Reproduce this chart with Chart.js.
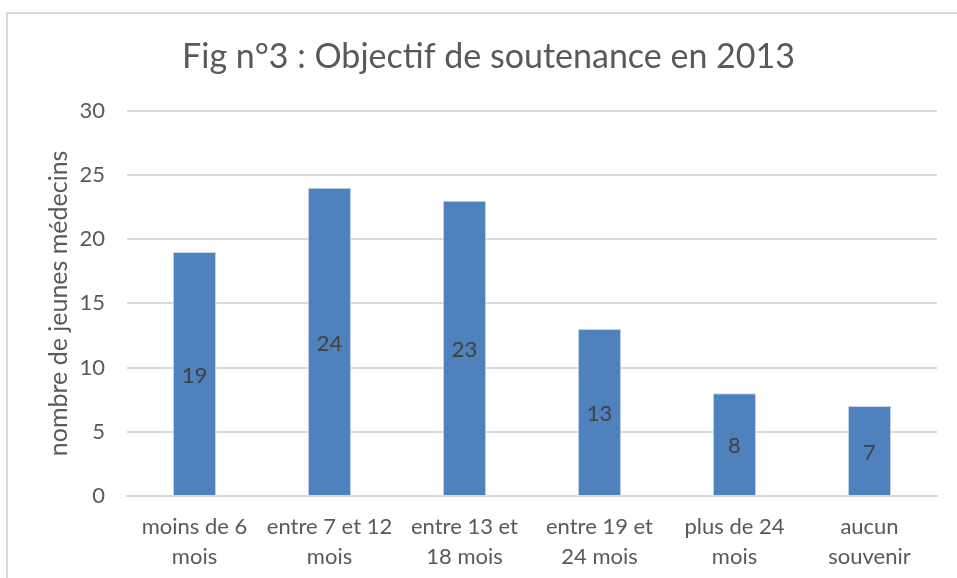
<!DOCTYPE html>
<html><head><meta charset="utf-8">
<script src="https://cdn.jsdelivr.net/npm/chart.js@4"></script>
<style>
html,body{margin:0;padding:0;background:#fff;}
#wrap{position:absolute;left:0;top:0;width:957px;height:578px;}
#frame{position:absolute;left:6px;top:12px;width:951px;height:566px;border-left:2px solid #d9d9d9;border-top:2px solid #d9d9d9;box-sizing:border-box;}
canvas{position:absolute;left:0;top:0;}
</style></head><body>
<div id="wrap"><div id="frame"></div><canvas id="c" width="957" height="578"></canvas></div>
<script>
const categories = [['moins de 6','mois'],['entre 7 et 12','mois'],['entre 13 et','18 mois'],['entre 19 et','24 mois'],['plus de 24','mois'],['aucun','souvenir']];
const values = [19, 24, 23, 13, 8, 7];
const titleText = 'Fig n°3 : Objectif de soutenance en 2013';
const yTitle = 'nombre de jeunes médecins';
const FONT = 'Lato, "Open Sans", sans-serif';

const centerLabels = {
  id: 'centerLabels',
  afterDatasetsDraw(chart) {
    const ctx = chart.ctx;
    const meta = chart.getDatasetMeta(0);
    ctx.save();
    ctx.font = '22px ' + FONT;
    ctx.fillStyle = '#404040';
    ctx.textAlign = 'center';
    ctx.textBaseline = 'middle';
    meta.data.forEach((bar, i) => {
      const y = (bar.y + bar.base) / 2 + 2;
      ctx.fillText(String(values[i]), bar.x, y);
    });
    ctx.restore();
  }
};

new Chart(document.getElementById('c'), {
  type: 'bar',
  data: { labels: categories, datasets: [{ data: values, backgroundColor: '#4f81bd', borderColor: '#c6d5ea', borderWidth: 1, barPercentage: 0.64, categoryPercentage: 0.5 }] },
  options: {
    responsive: false, animation: false, devicePixelRatio: 1,
    layout: { padding: { left: 40, right: 20, top: 18, bottom: 6 } },
    plugins: {
      legend: { display: false }, tooltip: { enabled: false },
      title: { display: true, text: titleText, color: '#595959', font: { family: FONT, size: 34, weight: 'normal' }, padding: { top: 19, bottom: 33 } }
    },
    scales: {
      x: {
        afterFit(scale) { scale.height = 76; },
        grid: { display: false, drawTicks: false },
        border: { display: true, color: '#d9d9d9', width: 2 },
        ticks: { color: '#595959', font: { family: FONT, size: 22, lineHeight: 1.36 }, padding: 16, maxRotation: 0, autoSkip: false }
      },
      y: {
        afterFit(scale) { scale.width = 87; },
        min: 0, max: 30,
        grid: { color: '#d9d9d9', lineWidth: 2, drawTicks: false },
        border: { display: false },
        ticks: { stepSize: 5, color: '#595959', font: { family: FONT, size: 22 }, padding: 22 },
        title: { display: true, text: yTitle, color: '#595959', font: { family: FONT, size: 25 }, padding: { top: 4, bottom: 7 } }
      }
    }
  },
  plugins: [centerLabels]
});
</script>
</body></html>
